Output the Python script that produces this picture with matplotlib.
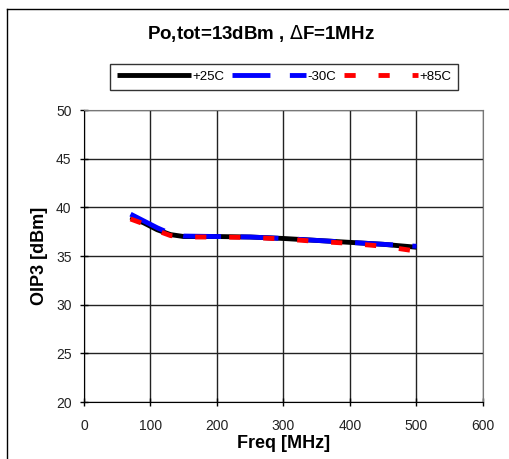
import matplotlib.pyplot as plt
from matplotlib.lines import Line2D

plt.rcParams['font.family'] = ['Liberation Sans', 'DejaVu Sans']

# data
freq = [70, 90, 110, 130, 150, 200, 250, 300, 350, 400, 450, 500]
t_p25 = [39.0, 38.4, 37.7, 37.2, 37.0, 37.0, 36.95, 36.8, 36.6, 36.4, 36.2, 35.9]
t_m30 = [39.3, 38.6, 37.9, 37.3, 37.05, 37.0, 36.95, 36.8, 36.6, 36.4, 36.2, 36.0]
t_p85 = [38.8, 38.3, 37.6, 37.1, 36.95, 36.95, 36.9, 36.75, 36.5, 36.3, 36.0, 35.5]
labels = ['+25C', '-30C', '+85C']
xticks = [0, 100, 200, 300, 400, 500, 600]
yticks = [20, 25, 30, 35, 40, 45, 50]

fig = plt.figure(figsize=(5.1, 4.59), dpi=100)
ax = fig.add_axes([84/510, 1 - 402/459, 399/510, 292/459])

lw = 3.5
ax.plot(freq, t_p25, color='black', linewidth=lw, label=labels[0], solid_capstyle='butt')
ax.plot(freq, t_m30, color='blue', linewidth=lw, dashes=(7.8, 4), label=labels[1])
ax.plot(freq, t_p85, color='red', linewidth=lw, dashes=(2.3, 4.7), label=labels[2])

ax.set_xlim(0, 600)
ax.set_ylim(20, 50)
ax.set_xticks(xticks)
ax.set_yticks(yticks)
ax.tick_params(direction='inout', length=6, labelsize=10, width=1, labelcolor='#222222')
ax.tick_params(axis='x', pad=9)
ax.tick_params(axis='y', pad=6)
ax.grid(True, color='#222222', linewidth=1)
for s in ['top', 'right']:
    ax.spines[s].set_color('#777777')

ax.set_xlabel('Freq [MHz]', fontsize=13, fontweight='bold', labelpad=2)
ax.set_ylabel('OIP3 [dBm]', fontsize=13, fontweight='bold', labelpad=6)

fig.text(261/510, 1 - 33/459, 'Po,tot=13dBm , $\\Delta$F=1MHz', ha='center', va='center',
         fontsize=13.5, fontweight='bold')

leg = fig.legend(loc='center', bbox_to_anchor=(284/510, 1 - 77/459), ncol=3,
                 frameon=True, fancybox=False, edgecolor='black', fontsize=9.5,
                 handlelength=5.6, handletextpad=0.1, columnspacing=0.6, borderpad=0.55)
leg.get_frame().set_linewidth(1)

# outer chart frame
fig.add_artist(Line2D([7/510, 7/510], [0, 1 - 9/459], color='black', linewidth=1))
fig.add_artist(Line2D([7/510, 1], [1 - 9/459, 1 - 9/459], color='black', linewidth=1))

fig.savefig('out.png', dpi=100)
